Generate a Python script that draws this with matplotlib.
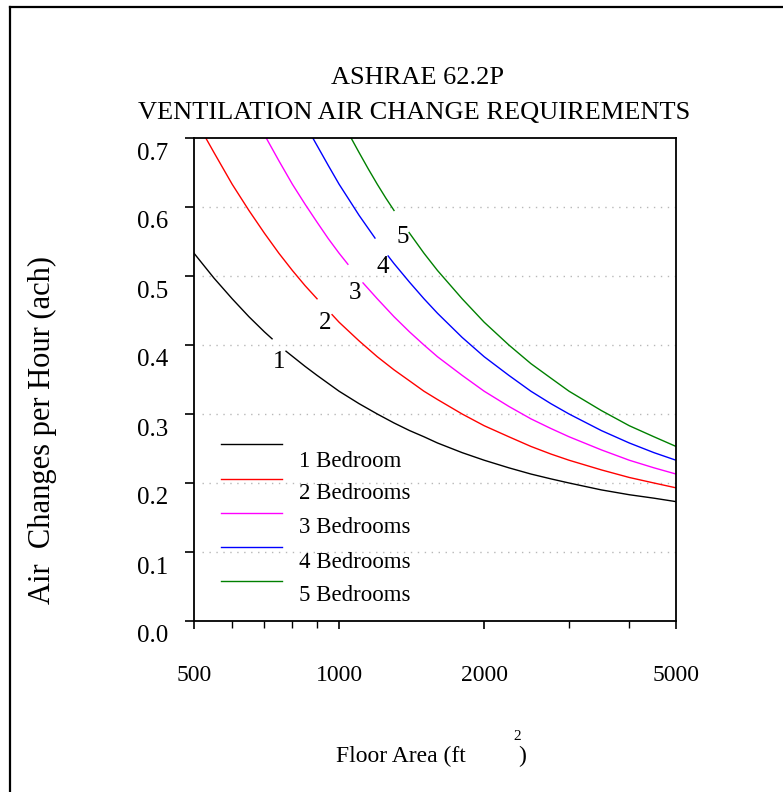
#!/usr/bin/env python3
"""ASHRAE 62.2P ventilation air change requirements vs floor area."""
import numpy as np
import matplotlib
matplotlib.use("Agg")
import matplotlib.pyplot as plt
from matplotlib.lines import Line2D
from matplotlib.ticker import FixedLocator, NullFormatter
from matplotlib.transforms import ScaledTranslation

plt.rcParams["font.family"] = ["Liberation Serif", "DejaVu Serif"]

nan = np.nan

# ── data (floor area ft², ach); nan = gap for curve label ──
area_1br = [500, 550, 600, 650, 700, 726, nan, 776, 850, 900, 1000, 1100, 1200, 1300,
            1400, 1500, 1600, 1800, 2000, 2250, 2500, 2750, 3000, 3500, 4000, 4500, 5000]
ach_1br = [0.533, 0.497, 0.467, 0.441, 0.419, 0.409, nan, 0.391, 0.369, 0.356, 0.333,
           0.315, 0.300, 0.287, 0.276, 0.267, 0.258, 0.244, 0.233, 0.222, 0.213, 0.206,
           0.200, 0.190, 0.183, 0.178, 0.173]

area_2br = [529, 550, 600, 650, 700, 750, 800, 850, 900, nan, 967, 1000, 1100, 1200, 1300,
            1400, 1500, 1600, 1800, 2000, 2250, 2500, 2750, 3000, 3500, 4000, 4500, 5000]
ach_2br = [0.700, 0.679, 0.633, 0.595, 0.562, 0.533, 0.508, 0.486, 0.467, nan, 0.444,
           0.433, 0.406, 0.383, 0.364, 0.348, 0.333, 0.321, 0.300, 0.283, 0.267, 0.253,
           0.242, 0.233, 0.219, 0.208, 0.200, 0.193]

area_3br = [706, 750, 800, 850, 900, 950, 1000, 1043, nan, 1121, 1200, 1300, 1400, 1500,
            1600, 1800, 2000, 2250, 2500, 2750, 3000, 3500, 4000, 4500, 5000]
ach_3br = [0.700, 0.667, 0.633, 0.604, 0.578, 0.554, 0.533, 0.517, nan, 0.490, 0.467,
           0.441, 0.419, 0.400, 0.383, 0.356, 0.333, 0.311, 0.293, 0.279, 0.267, 0.248,
           0.233, 0.222, 0.213]

area_4br = [882, 950, 1000, 1050, 1100, 1187, nan, 1264, 1300, 1400, 1500, 1600, 1800,
            2000, 2250, 2500, 2750, 3000, 3500, 4000, 4500, 5000]
ach_4br = [0.700, 0.660, 0.633, 0.610, 0.588, 0.555, nan, 0.529, 0.518, 0.491, 0.467,
           0.446, 0.411, 0.383, 0.356, 0.333, 0.315, 0.300, 0.276, 0.258, 0.244, 0.233]

area_5br = [1059, 1100, 1150, 1200, 1250, 1300, nan, 1397, 1500, 1600, 1800, 2000, 2250,
            2500, 2750, 3000, 3500, 4000, 4500, 5000]
ach_5br = [0.700, 0.679, 0.655, 0.633, 0.613, 0.595, nan, 0.563, 0.533, 0.508, 0.467,
           0.433, 0.400, 0.373, 0.352, 0.333, 0.305, 0.283, 0.267, 0.253]

series_labels = ["1 Bedroom", "2 Bedrooms", "3 Bedrooms", "4 Bedrooms", "5 Bedrooms"]
curve_tags = ["1", "2", "3", "4", "5"]
colors = ["black", "#ff0000", "#ff00ff", "#0000ff", "#008000"]

# where the inline curve numbers sit (area, ach)
tag_area = [750, 935, 1079, 1233, 1357]
tag_ach = [0.375, 0.432, 0.475, 0.513, 0.557]

x_major = [500, 1000, 2000, 5000]
x_minor = [600, 700, 800, 900, 3000, 4000]
y_ticks = [0.0, 0.1, 0.2, 0.3, 0.4, 0.5, 0.6, 0.7]
grid_levels = [0.1, 0.2, 0.3, 0.4, 0.5, 0.6]

areas = [area_1br, area_2br, area_3br, area_4br, area_5br]
achs = [ach_1br, ach_2br, ach_3br, ach_4br, ach_5br]

# ── figure ───────────────────────────────────────────────────────────────────
W, H = 783, 792
fig = plt.figure(figsize=(W / 100, H / 100), dpi=100)
ax = fig.add_axes([194 / W, 1 - 621 / H, 482 / W, 483 / H])

# outer frame (left + top only)
fig.add_artist(Line2D([10 / W, 10 / W], [0, 1 - 7 / H], transform=fig.transFigure,
                      color="black", lw=1.6))
fig.add_artist(Line2D([10 / W, 1], [1 - 7 / H, 1 - 7 / H], transform=fig.transFigure,
                      color="black", lw=1.6))

for lvl in grid_levels:
    ax.axhline(lvl, xmin=0.017, xmax=1, color="#b8b8b8", lw=1.0, ls=(0, (1, 4)), zorder=0)

for xs, ys, c in zip(areas, achs, colors):
    ax.plot(xs, ys, color=c, lw=1.0)

for t, xa, ya in zip(curve_tags, tag_area, tag_ach):
    ax.text(xa, ya, t, fontsize=18, ha="center", va="center")

ax.set_xscale("log")
ax.set_xlim(500, 5000)
ax.set_ylim(0, 0.7)

ax.xaxis.set_major_locator(FixedLocator(x_major))
ax.xaxis.set_minor_locator(FixedLocator(x_minor))
ax.xaxis.set_minor_formatter(NullFormatter())
ax.set_xticklabels([str(v) for v in x_major])
ax.set_yticks(y_ticks)
ax.set_yticklabels([f"{v:.1f}" for v in y_ticks])

ax.tick_params(axis="x", which="major", direction="out", length=6, width=1.2,
               labelsize=17, pad=26)
ax.tick_params(axis="x", which="minor", direction="out", length=5, width=1.0)
ax.tick_params(axis="y", direction="out", length=6.5, width=1.2, labelsize=18, pad=12)

# y labels sit a bit below their ticks in the original
offset = ScaledTranslation(0, -0.13, fig.dpi_scale_trans)
for lbl in ax.yaxis.get_majorticklabels():
    lbl.set_transform(lbl.get_transform() + offset)

for sp in ax.spines.values():
    sp.set_linewidth(1.3)

# legend drawn by hand: line above its text
leg_line_y = [0.366, 0.294, 0.224, 0.153, 0.083]
leg_text_y = [0.331, 0.263, 0.193, 0.122, 0.052]
for lab, c, ly, ty in zip(series_labels, colors, leg_line_y, leg_text_y):
    ax.plot([0.056, 0.183], [ly, ly], color=c, lw=1.0, transform=ax.transAxes)
    ax.text(0.218, ty, lab, fontsize=16.5, ha="left", va="center", transform=ax.transAxes)

# titles and axis labels
fig.text(417 / W, 1 - 84 / H, "ASHRAE 62.2P", fontsize=19, ha="center", va="baseline")
fig.text(414 / W, 1 - 119 / H, "VENTILATION AIR CHANGE REQUIREMENTS", fontsize=19,
         ha="center", va="baseline")

fig.text(42 / W, 1 - 430 / H, "Air  Changes per Hour (ach)", fontsize=22,
         rotation=90, ha="center", va="center")

fig.text(336 / W, 1 - 762 / H, "Floor Area (ft", fontsize=17, ha="left", va="baseline")
fig.text(513 / W, 1 - 740 / H, "2", fontsize=11, ha="left", va="baseline")
fig.text(518 / W, 1 - 762 / H, ")", fontsize=17, ha="left", va="baseline")

fig.savefig("out.png", dpi=100)
